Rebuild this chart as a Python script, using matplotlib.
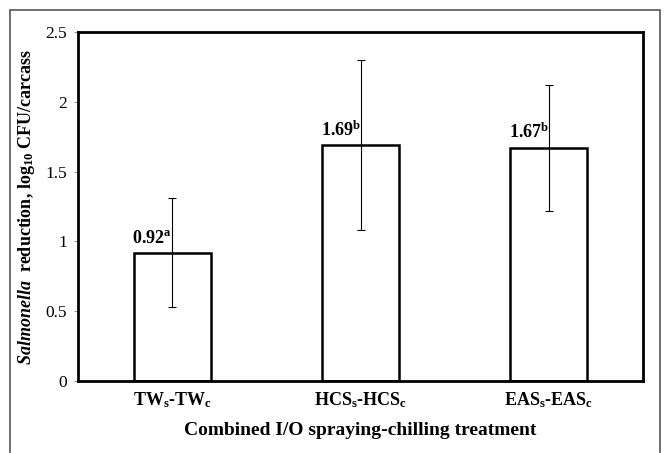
import matplotlib
matplotlib.use("Agg")
import matplotlib.pyplot as plt
from matplotlib.patches import Rectangle

plt.rcParams['font.family'] = ['Liberation Serif', 'DejaVu Serif']
plt.rcParams['mathtext.fontset'] = 'custom'
plt.rcParams['mathtext.rm'] = 'Liberation Serif:bold'
plt.rcParams['mathtext.bf'] = 'Liberation Serif:bold'
plt.rcParams['mathtext.it'] = 'Liberation Serif:italic:bold'

categories = [r'TW$_\mathrm{s}$-TW$_\mathrm{c}$', r'HCS$_\mathrm{s}$-HCS$_\mathrm{c}$', r'EAS$_\mathrm{s}$-EAS$_\mathrm{c}$']
values = [0.92, 1.69, 1.67]
errors = [0.39, 0.61, 0.45]
letters = ['a', 'b', 'b']
yticks = [0, 0.5, 1, 1.5, 2, 2.5]
ytick_labels = ['0', '0.5', '1', '1.5', '2', '2.5']

fig = plt.figure(figsize=(6.71, 4.53), dpi=100)
ax = fig.add_axes([78/671, 1 - 381/453, (643-78)/671, (381-32)/453])

x = list(range(len(categories)))
width = 0.41
ax.bar(x, values, width=width, color='white', edgecolor='black', linewidth=1.8, zorder=2)
ax.errorbar(x, values, yerr=errors, fmt='none', ecolor='black', elinewidth=0.8,
            capsize=3, capthick=0.8, zorder=3)

for xi, v, lt in zip(x, values, letters):
    ax.annotate(f'{v:.2f}$^\\mathrm{{{lt}}}$', xy=(xi - width/2, v), xytext=(-1, 4),
                textcoords='offset points', ha='left', va='bottom',
                fontsize=13, fontweight='bold', zorder=4)

ax.set_xlim(-0.5, 2.5)
ax.set_ylim(0, 2.5)
ax.set_yticks(yticks)
ax.set_yticklabels(ytick_labels, fontsize=12.5)
ax.set_xticks(x)
ax.set_xticklabels(categories, fontsize=13, fontweight='bold')
ax.tick_params(axis='x', length=0, pad=7)
ax.tick_params(axis='y', length=3, width=0.6, pad=5, color='gray')
for s in ax.spines.values():
    s.set_linewidth(2)
ax.set_xlabel('Combined I/O spraying-chilling treatment', fontsize=14, fontweight='bold', labelpad=8)
ax.set_ylabel(r'$\mathit{Salmonella}$  reduction, log$_{10}$ CFU/carcass', fontsize=13,
              fontweight='bold', labelpad=6)

border = Rectangle((10/671, -0.05), (660-10)/671, 1 - 10/453 + 0.05, transform=fig.transFigure,
                   fill=False, edgecolor='#555555', linewidth=1.2, clip_on=False)
fig.patches.append(border)

fig.savefig('out.png', dpi=100)
